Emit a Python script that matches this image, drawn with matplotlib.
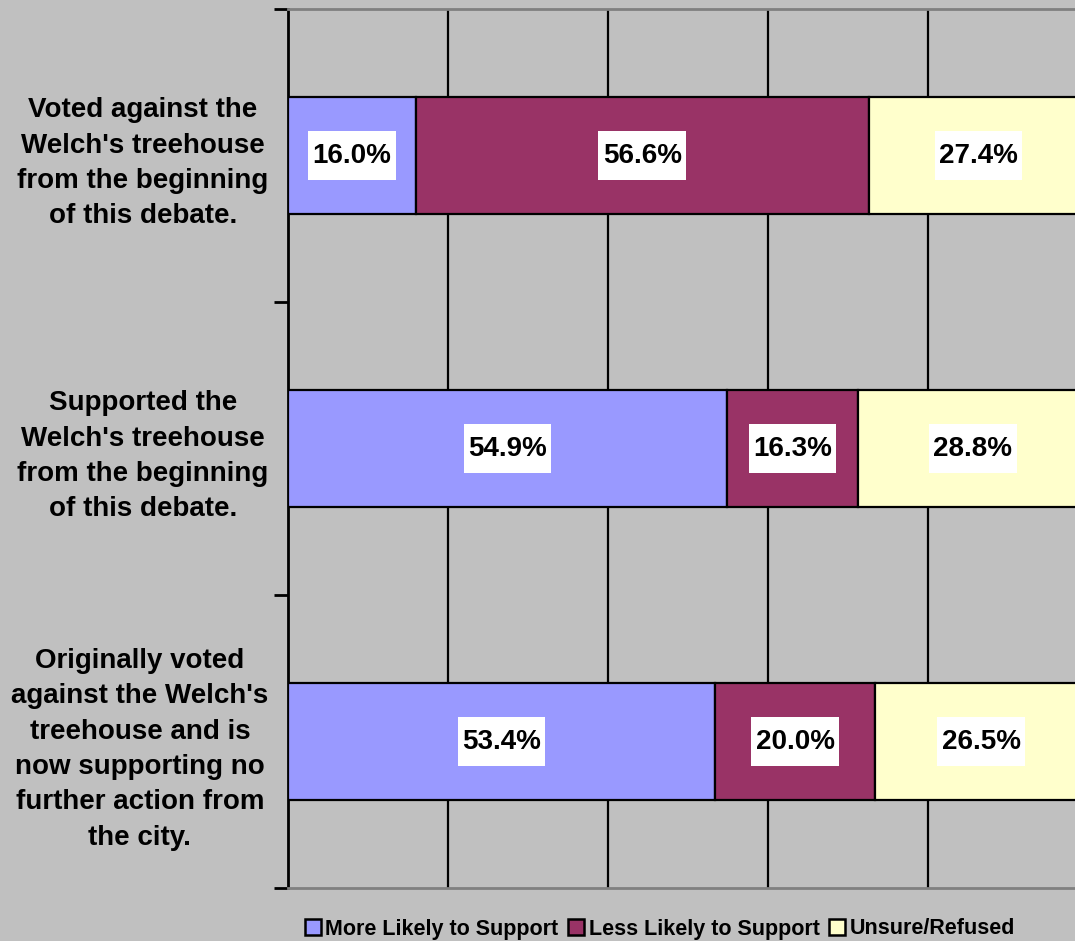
import matplotlib
matplotlib.use("Agg")
import matplotlib.pyplot as plt
from matplotlib.patches import Patch
from matplotlib.path import Path
import numpy as np

categories = [
    "Voted against the\nWelch's treehouse\nfrom the beginning\nof this debate.",
    "Supported the\nWelch's treehouse\nfrom the beginning\nof this debate.",
    "Originally voted\nagainst the Welch's\ntreehouse and is\nnow supporting no\nfurther action from\nthe city.",
]
series_names = ["More Likely to Support", "Less Likely to Support", "Unsure/Refused"]
more_likely = [16.0, 54.9, 53.4]
less_likely = [56.6, 16.3, 20.0]
unsure = [27.4, 28.8, 26.5]
colors = ["#9999FF", "#993366", "#FFFFCC"]

plt.rcParams['font.family'] = ['Liberation Sans', 'DejaVu Sans']


def label_box(x0, y0, width, height, mutation_size):
    px = 0.16 * mutation_size
    py = 0.42 * mutation_size
    x0, y0 = x0 - px, y0 - py
    x1, y1 = x0 + width + 2 * px, y0 + height + 2 * py
    return Path([(x0, y0), (x1, y0), (x1, y1), (x0, y1), (x0, y0)], closed=True)


fig = plt.figure(figsize=(10.75, 9.41), dpi=100)
fig.patch.set_facecolor("#C0C0C0")
ax = fig.add_axes([288/1075, 53/941, 800/1075, 879/941])
ax.set_facecolor("#C0C0C0")

y = np.arange(len(categories))
left = np.zeros(len(categories))
for vals, col, name in zip([more_likely, less_likely, unsure], colors, series_names):
    bars = ax.barh(y, vals, left=left, height=0.4, color=col, edgecolor="black",
                   linewidth=1.6, label=name, zorder=3)
    for b, v in zip(bars, vals):
        ax.text(b.get_x() + b.get_width()/2, b.get_y() + b.get_height()/2, f"{v:.1f}%",
                ha="center", va="center", fontsize=20, fontweight="bold", zorder=4,
                bbox=dict(boxstyle=label_box, facecolor="white", edgecolor="none"))
    left += np.array(vals)

ax.set_xlim(0, 100)
ax.set_ylim(len(categories) - 0.5, -0.5)
for gx in [20, 40, 60, 80]:
    ax.axvline(gx, color="black", linewidth=1.6, zorder=1)

ax.set_xticks([])
ax.set_yticks(np.arange(len(categories) + 1) - 0.5)
ax.set_yticklabels([])
ax.tick_params(axis="y", which="major", direction="out", length=10, width=2, color="black")
ax.set_yticks(y, minor=True)
ax.set_yticklabels(categories, minor=True, fontsize=20, fontweight="bold",
                   multialignment="center", linespacing=1.47)
ax.tick_params(axis="y", which="minor", length=0, pad=14)

ax.spines["left"].set_color("black")
ax.spines["left"].set_linewidth(2)
for s in ["top", "bottom"]:
    ax.spines[s].set_color("#808080")
    ax.spines[s].set_linewidth(2)
ax.spines["right"].set_visible(False)

handles = [Patch(facecolor=c, edgecolor="black", linewidth=1.8) for c in colors]
fig.legend(handles, series_names, loc="center", bbox_to_anchor=(660/1075, 1 - 929/941),
           ncol=3, frameon=False, prop=dict(size=15.5, weight="bold"),
           handlelength=0.75, handleheight=0.75, handletextpad=0.2, columnspacing=0.45)

fig.savefig("out.png", dpi=100, facecolor=fig.get_facecolor())
